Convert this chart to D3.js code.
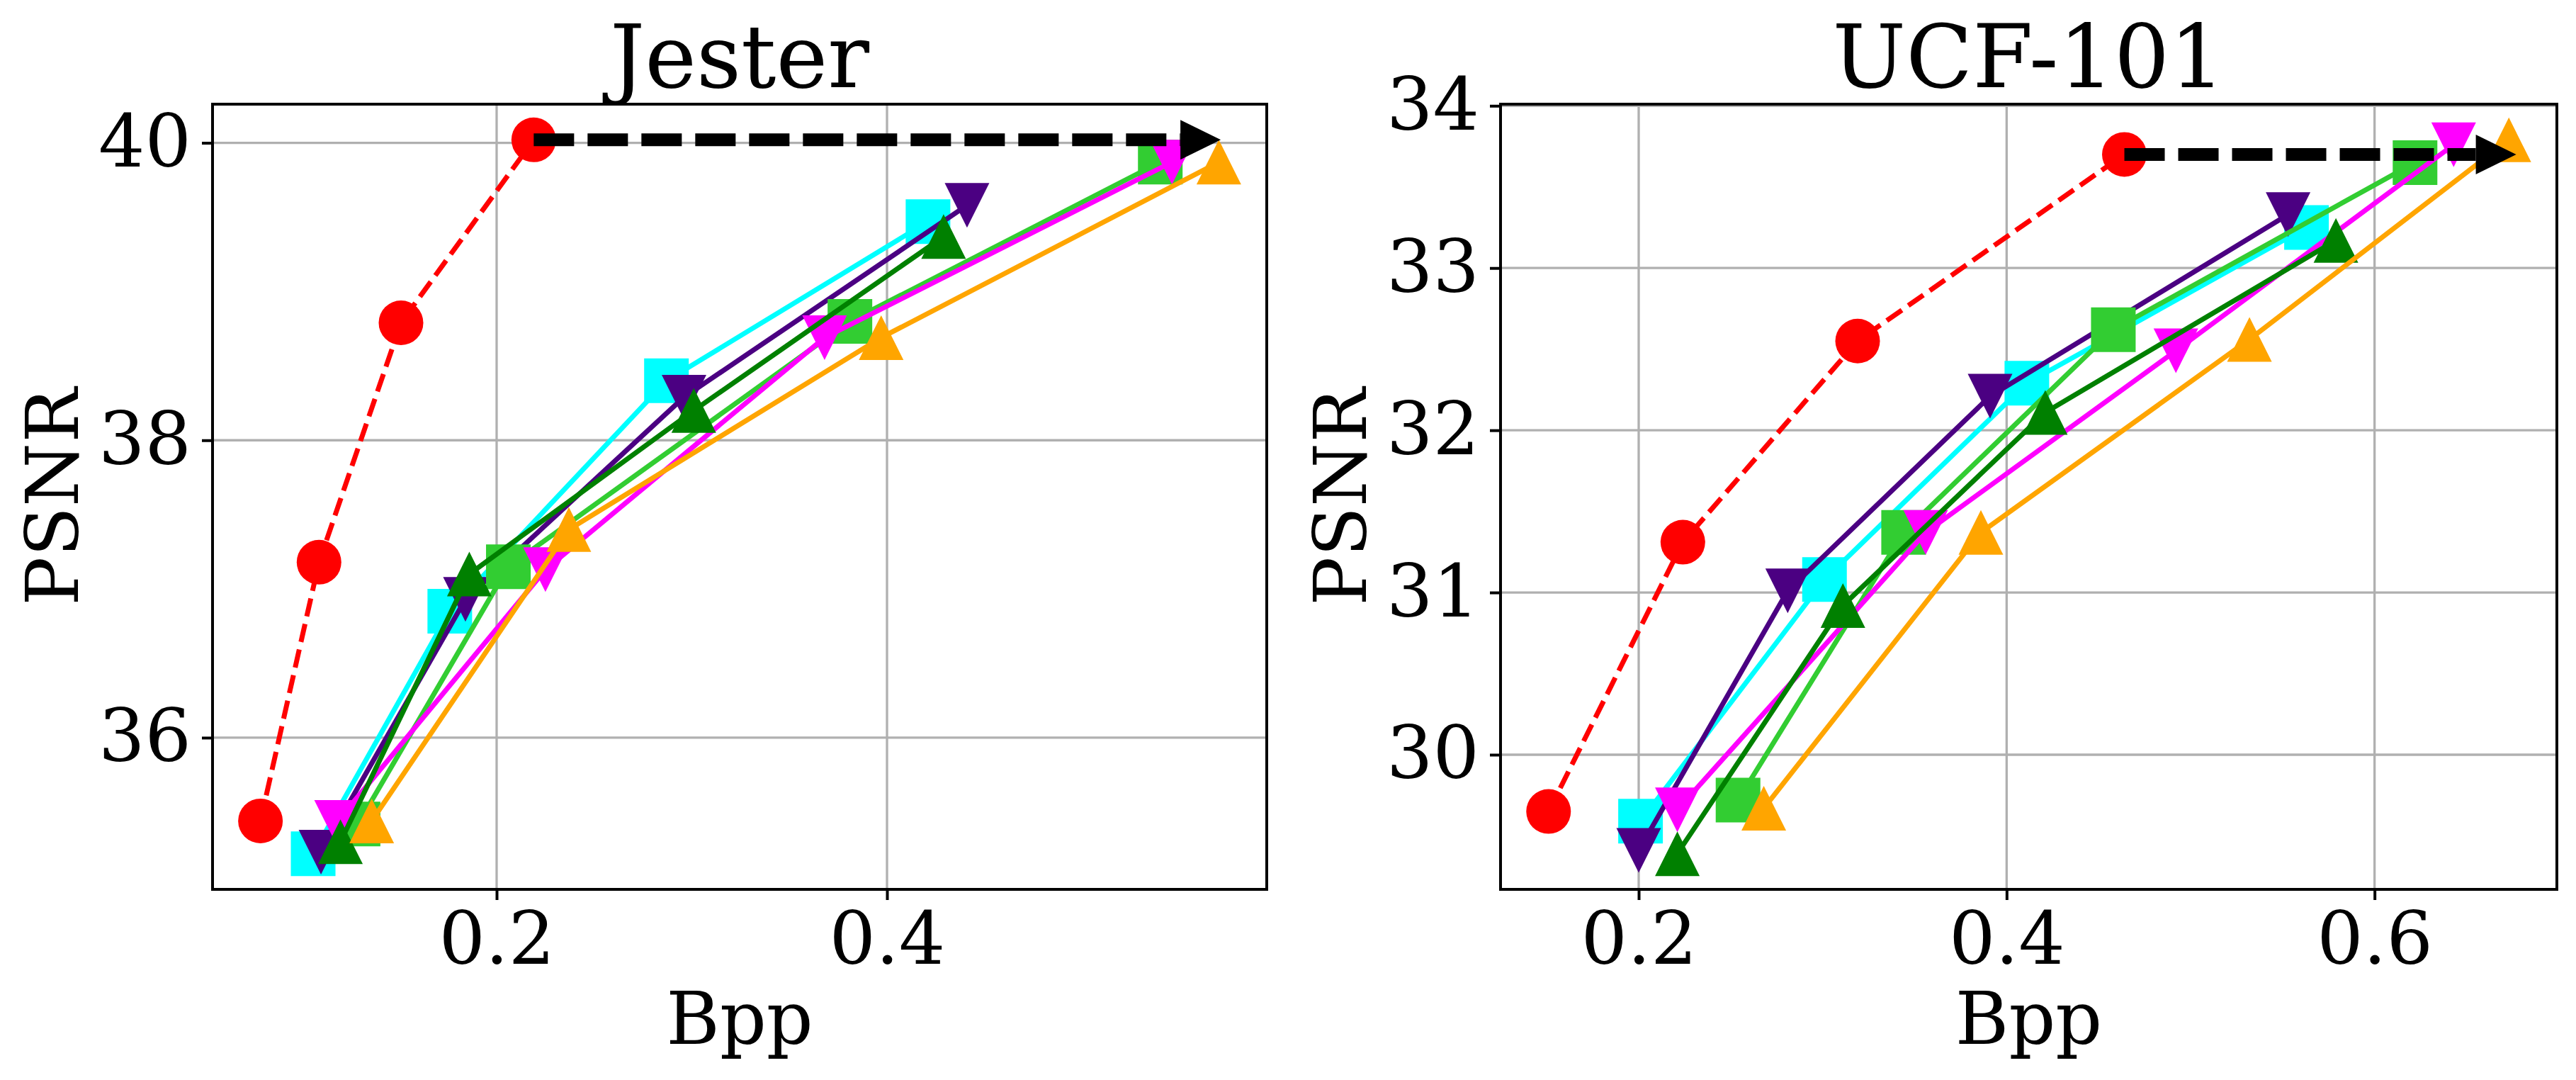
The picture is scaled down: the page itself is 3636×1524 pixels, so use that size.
<!DOCTYPE html>
<html>
<head>
<meta charset="utf-8">
<script src="https://cdn.jsdelivr.net/npm/d3@7"></script>
<style>
  body { margin: 0; background: #fff; }
  svg { display: block; }
  text { font-family: "DejaVu Serif", serif; fill: #000; }
</style>
</head>
<body>
<svg id="chart" width="3636" height="1524"></svg>
<script>
// ---- data ----
// series order: red (dashed), cyan, indigo, limegreen, magenta, green, orange
var jesterBpp = [
    [0.079, 0.109, 0.151, 0.219],
    [0.106, 0.176, 0.287, 0.421],
    [0.110, 0.184, 0.296, 0.441],
    [0.129, 0.206, 0.381, 0.540],
    [0.118, 0.225, 0.368, 0.546],
    [0.120, 0.186, 0.301, 0.429],
    [0.136, 0.237, 0.397, 0.570]
];
var jesterPsnr = [
    [35.44, 37.18, 38.79, 40.02],
    [35.22, 36.85, 38.40, 39.47],
    [35.23, 36.93, 38.29, 39.58],
    [35.42, 37.15, 38.80, 39.87],
    [35.43, 37.13, 38.69, 39.87],
    [35.30, 37.10, 38.20, 39.37],
    [35.44, 37.40, 38.69, 39.87]
];
var ucfBpp = [
    [0.151, 0.224, 0.319, 0.464],
    [0.201, 0.301, 0.411, 0.563],
    [0.200, 0.281, 0.391, 0.553],
    [0.254, 0.344, 0.458, 0.622],
    [0.221, 0.356, 0.492, 0.643],
    [0.221, 0.311, 0.421, 0.579],
    [0.268, 0.386, 0.532, 0.673]
];
var ucfPsnr = [
    [29.65, 31.31, 32.55, 33.70],
    [29.59, 31.08, 32.29, 33.25],
    [29.41, 31.01, 32.21, 33.33],
    [29.72, 31.37, 32.62, 33.65],
    [29.66, 31.37, 32.49, 33.76],
    [29.39, 30.92, 32.11, 33.17],
    [29.67, 31.37, 32.56, 33.79]
];
var titles = ["Jester", "UCF-101"];
var jesterXTicks = [0.2, 0.4];
var jesterYTicks = [36, 38, 40];
var ucfXTicks = [0.2, 0.4, 0.6];
var ucfYTicks = [30, 31, 32, 33, 34];
// where the black arrow ends (bpp)
var arrowEnds = [0.571, 0.677];

// ---- styles ----
var seriesColors = ["#ff0000", "#00ffff", "#4b0082", "#32cd32", "#ff00ff", "#008000", "#ffa500"];
var seriesShapes = ["circle", "square", "triDown", "square", "triDown", "triUp", "triUp"];

var shapes = {
    circle: { draw: function(c, s) { c.moveTo(s / 2, 0); c.arc(0, 0, s / 2, 0, 2 * Math.PI); } },
    square: { draw: function(c, s) { c.rect(-s / 2, -s / 2, s, s); } },
    triUp: { draw: function(c, s) { c.moveTo(0, -s / 2); c.lineTo(s / 2, s / 2); c.lineTo(-s / 2, s / 2); c.closePath(); } },
    triDown: { draw: function(c, s) { c.moveTo(0, s / 2); c.lineTo(s / 2, -s / 2); c.lineTo(-s / 2, -s / 2); c.closePath(); } }
};

var plotTop = 147, plotH = 1108;
var markerSize = 63;

var svg = d3.select('#chart');

function padded(vals) {
    var lo = d3.min(vals), hi = d3.max(vals), m = (hi - lo) * 0.05;
    return [lo - m, hi + m];
}

function drawPanel(left, width, title, bpp, psnr, xTicks, yTicks, arrowEnd) {
    var g = svg.append('g').attr('transform', 'translate(' + left + ',' + plotTop + ')');

    var x = d3.scaleLinear().domain(padded(d3.merge(bpp))).range([0, width]);
    var y = d3.scaleLinear().domain(padded(d3.merge(psnr))).range([plotH, 0]);

    /* grid */
    g.append('g').selectAll('line').data(xTicks).enter().append('line')
        .attr('x1', function(d) { return x(d); }).attr('x2', function(d) { return x(d); })
        .attr('y1', 0).attr('y2', plotH)
        .attr('stroke', '#b0b0b0').attr('stroke-width', 3.3);
    g.append('g').selectAll('line').data(yTicks).enter().append('line')
        .attr('y1', function(d) { return y(d); }).attr('y2', function(d) { return y(d); })
        .attr('x1', 0).attr('x2', width)
        .attr('stroke', '#b0b0b0').attr('stroke-width', 3.3);

    /* series */
    var line = d3.line().x(function(d) { return x(d[0]); }).y(function(d) { return y(d[1]); });
    bpp.forEach(function(xs, i) {
        var pts = xs.map(function(v, j) { return [v, psnr[i][j]]; });
        g.append('path').datum(pts)
            .attr('d', line)
            .attr('fill', 'none')
            .attr('stroke', seriesColors[i])
            .attr('stroke-width', 7)
            .attr('stroke-linejoin', 'round')
            .attr('stroke-dasharray', i === 0 ? '26,11' : null);
        g.append('g').selectAll('path').data(pts).enter().append('path')
            .attr('transform', function(d) { return 'translate(' + x(d[0]) + ',' + y(d[1]) + ')'; })
            .attr('d', d3.symbol().type(shapes[seriesShapes[i]]).size(markerSize))
            .attr('fill', seriesColors[i]);
    });

    /* black dashed arrow from the last red point */
    var ax0 = x(bpp[0][bpp[0].length - 1]);
    var ay = y(psnr[0][psnr[0].length - 1]);
    var ax1 = x(arrowEnd);
    var head = 57;
    g.append('line')
        .attr('x1', ax0).attr('x2', ax1 - head).attr('y1', ay).attr('y2', ay)
        .attr('stroke', '#000').attr('stroke-width', 18)
        .attr('stroke-dasharray', '57,19');
    g.append('path')
        .attr('d', 'M' + ax1 + ',' + ay + 'L' + (ax1 - head) + ',' + (ay - 28) + 'L' + (ax1 - head) + ',' + (ay + 28) + 'Z')
        .attr('fill', '#000');

    /* axes */
    var xAxis = g.append('g').attr('transform', 'translate(0,' + plotH + ')')
        .call(d3.axisBottom(x).tickValues(xTicks).tickSize(15).tickPadding(17).tickFormat(d3.format('.1f')));
    var yAxis = g.append('g')
        .call(d3.axisLeft(y).tickValues(yTicks).tickSize(15).tickPadding(15).tickFormat(d3.format('d')));
    [xAxis, yAxis].forEach(function(a) {
        a.select('.domain').remove();
        a.selectAll('.tick line').attr('stroke', '#000').attr('stroke-width', 4);
        a.selectAll('.tick text').attr('font-size', 103).attr('font-family', '"DejaVu Serif", serif').attr('fill', '#000');
    });

    /* frame */
    g.append('rect').attr('x', 0).attr('y', 0).attr('width', width).attr('height', plotH)
        .attr('fill', 'none').attr('stroke', '#000').attr('stroke-width', 4);

    /* texts */
    g.append('text').attr('x', width / 2).attr('y', -24)
        .attr('text-anchor', 'middle').attr('font-size', 123).text(title);
    g.append('text').attr('x', width / 2).attr('y', 1473 - plotTop)
        .attr('text-anchor', 'middle').attr('font-size', 103).text('Bpp');
    g.append('text')
        .attr('transform', 'translate(-190,' + (plotH / 2) + ') rotate(-90)')
        .attr('text-anchor', 'middle').attr('font-size', 103).text('PSNR');
}

drawPanel(300, 1488, titles[0], jesterBpp, jesterPsnr, jesterXTicks, jesterYTicks, arrowEnds[0]);
drawPanel(2118, 1491, titles[1], ucfBpp, ucfPsnr, ucfXTicks, ucfYTicks, arrowEnds[1]);
</script>
</body>
</html>
